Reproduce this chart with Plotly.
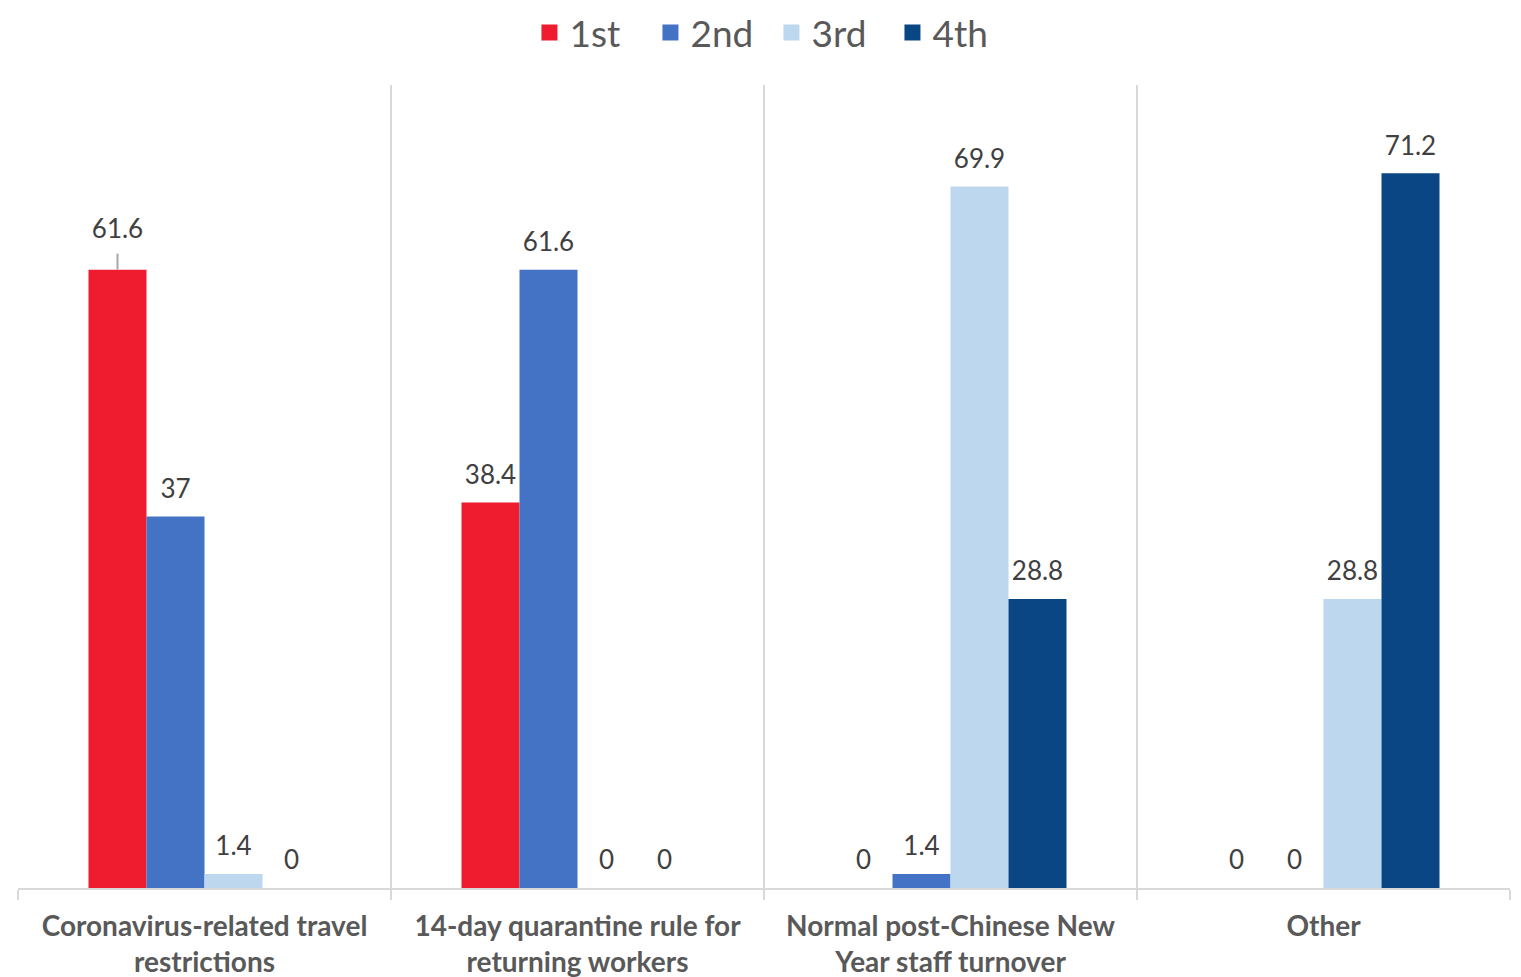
import plotly.graph_objects as go

categories = [
    "Coronavirus-related travel<br>restrictions",
    "14-day quarantine rule for<br>returning workers",
    "Normal post-Chinese New<br>Year staff turnover",
    "Other",
]
series_names = ["1st", "2nd", "3rd", "4th"]
first = [61.6, 38.4, 0, 0]
second = [37, 61.6, 1.4, 0]
third = [1.4, 0, 69.9, 28.8]
fourth = [0, 0, 28.8, 71.2]
colors = ["#EE1C2E", "#4472C4", "#BDD7EE", "#0A4683"]

series_values = [first, second, third, fourth]
GAP = 0.378

# page body has an 8px default margin; margins compensate for it
OFF = 8

fig = go.Figure()
for i, (name, vals, col) in enumerate(zip(series_names, series_values, colors)):
    fig.add_trace(go.Bar(
        x=categories, y=vals, name=name, offsetgroup=str(i),
        marker=dict(color=col, line=dict(width=0)),
        showlegend=False, hoverinfo="skip",
    ))
for i, (name, vals, col) in enumerate(zip(series_names, series_values, colors)):
    sizes = [18] * len(vals)
    err = None
    if i == 0:
        # first label is lifted with a short leader line, as in the original
        sizes[0] = 38
        err = dict(type="data", symmetric=False, array=[1.6, 0, 0, 0],
                   arrayminus=[0, 0, 0, 0], width=0, thickness=2, color="#A6A6A6")
    fig.add_trace(go.Scatter(
        x=categories, y=vals, offsetgroup=str(i), mode="markers+text",
        text=[f"{v:g}" for v in vals], textposition="top center",
        textfont=dict(family="Lato", size=26, color="#404040"),
        marker=dict(size=sizes, color="rgba(0,0,0,0)", line=dict(width=0, color="rgba(0,0,0,0)")),
        error_y=err,
        cliponaxis=False, showlegend=False, hoverinfo="skip",
    ))
for i, (name, col) in enumerate(zip(series_names, colors)):
    fig.add_trace(go.Scatter(
        x=[None], y=[None], mode="markers", name=name, offsetgroup=str(i),
        marker=dict(symbol="square", size=22, color=col, line=dict(width=0)),
    ))

fig.update_layout(
    width=1521, height=977,
    margin=dict(l=18 - OFF, r=11 + OFF, t=85 - OFF, b=89 + OFF),
    plot_bgcolor="white", paper_bgcolor="white",
    barmode="group", bargap=GAP, bargroupgap=0,
    scattermode="group", scattergap=GAP,
    font=dict(family="Lato", color="#595959"),
    legend=dict(orientation="h", x=0.505, xanchor="center",
                yref="container", y=1 - (33 - OFF) / 977, yanchor="middle",
                font=dict(size=37, color="#595959"), itemsizing="trace",
                entrywidth=76, traceorder="normal"),
    xaxis=dict(
        automargin=False,
        tickson="boundaries", showgrid=True, gridcolor="#D9D9D9", gridwidth=2,
        showline=True, linecolor="#D9D9D9", linewidth=2,
        ticks="outside", ticklen=10, tickcolor="#D9D9D9", tickwidth=2,
        ticklabelstandoff=12,
        tickfont=dict(family="Lato", size=28, color="#595959", weight="bold"),
    ),
    yaxis=dict(range=[0, 80], visible=False, showgrid=False, automargin=False),
)

fig.write_html("out.html")
